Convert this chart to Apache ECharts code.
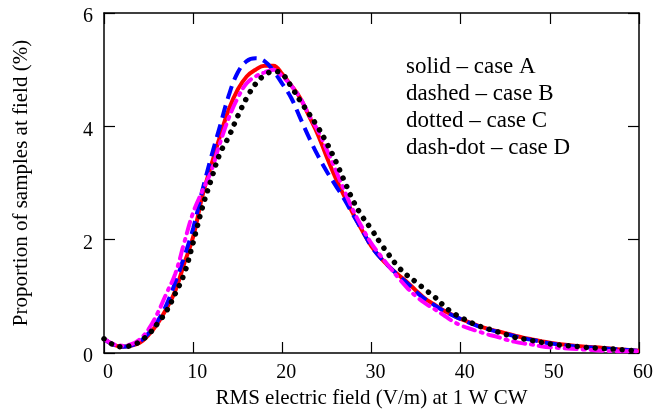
<!DOCTYPE html>
<html>
<head>
    <meta charset="utf-8">
    <title>RMS field distribution</title>
    <script src="https://cdn.jsdelivr.net/npm/echarts@6/dist/echarts.min.js"></script>
    <style>
        body { margin: 0; background: #fff; }
        #chart { width: 669px; height: 416px; }
    </style>
</head>
<body>
    <div id="chart"></div>
    <script type="text/javascript">
        // field values (V/m)
        var fieldX = [0, 1, 2, 3, 4, 5, 6, 7, 8, 9, 10, 11, 12, 13, 14, 15, 16, 17, 18, 19, 20,
            21, 22, 23, 24, 25, 26, 27, 28, 29, 30, 31, 32, 33, 34, 35, 36, 37, 38, 39, 40,
            41, 42, 43, 44, 45, 46, 47, 48, 49, 50, 52, 54, 56, 58, 60];

        // solid – case A
        var caseA = [0.25, 0.15, 0.11, 0.13, 0.18, 0.32, 0.52, 0.78, 1.1, 1.58, 2.05, 2.75, 3.3, 3.82, 4.3, 4.65, 4.88, 5.0, 5.07, 5.07, 4.92,
            4.72, 4.5, 4.18, 3.85, 3.45, 3.08, 2.75, 2.44, 2.15, 1.88, 1.68, 1.52, 1.38, 1.25, 1.1, 0.96, 0.86, 0.76, 0.68, 0.6,
            0.54, 0.48, 0.43, 0.39, 0.35, 0.31, 0.27, 0.24, 0.21, 0.18, 0.14, 0.11, 0.09, 0.06, 0.04];
        // dashed – case B
        var caseB = [0.25, 0.15, 0.11, 0.13, 0.2, 0.35, 0.56, 0.85, 1.25, 1.7, 2.2, 2.85, 3.45, 4.0, 4.55, 4.95, 5.15, 5.2, 5.15, 4.98, 4.75,
            4.5, 4.15, 3.8, 3.48, 3.2, 2.95, 2.7, 2.42, 2.15, 1.88, 1.68, 1.52, 1.37, 1.23, 1.08, 0.95, 0.85, 0.75, 0.67, 0.6,
            0.53, 0.47, 0.42, 0.38, 0.34, 0.3, 0.26, 0.23, 0.2, 0.17, 0.13, 0.1, 0.08, 0.06, 0.04];
        // dotted – case C
        var caseC = [0.25, 0.15, 0.11, 0.13, 0.2, 0.33, 0.52, 0.74, 1.05, 1.4, 1.95, 2.55, 3.05, 3.52, 3.82, 4.18, 4.5, 4.75, 4.9, 4.97, 4.92,
            4.7, 4.45, 4.22, 3.98, 3.7, 3.38, 3.02, 2.67, 2.4, 2.18, 1.94, 1.72, 1.52, 1.37, 1.25, 1.12, 1.0, 0.85, 0.72, 0.63,
            0.55, 0.48, 0.43, 0.38, 0.33, 0.28, 0.25, 0.22, 0.19, 0.16, 0.13, 0.1, 0.08, 0.06, 0.03];
        // dash-dot – case D
        var caseD = [0.25, 0.16, 0.13, 0.15, 0.24, 0.42, 0.7, 1.05, 1.4, 1.95, 2.48, 2.85, 3.2, 3.7, 4.15, 4.5, 4.76, 4.88, 4.95, 5.0, 4.88,
            4.72, 4.5, 4.2, 3.92, 3.58, 3.22, 2.85, 2.5, 2.2, 1.93, 1.72, 1.52, 1.33, 1.15, 1.0, 0.88, 0.78, 0.68, 0.57, 0.49,
            0.43, 0.38, 0.33, 0.29, 0.24, 0.2, 0.17, 0.15, 0.12, 0.1, 0.08, 0.06, 0.04, 0.03, 0.03];

        var legendLines = ['solid – case A', 'dashed – case B', 'dotted – case C', 'dash-dot – case D'];

        function pairs(ys) {
            return fieldX.map(function(x, i) {
                return [x, ys[i]];
            });
        }

        var serif = 'Liberation Serif, Times New Roman, serif';

        function axisBase(extra) {
            var a = {
                type: 'value',
                axisLine: { show: true, onZero: false, lineStyle: { color: '#000', width: 1.5 } },
                axisTick: { show: true, inside: true, length: 11, lineStyle: { color: '#000', width: 1.2 } },
                splitLine: { show: false },
                axisLabel: { color: '#000', fontFamily: serif, fontSize: 20 }
            };
            for (var k in extra) a[k] = extra[k];
            return a;
        }

        var chart = echarts.init(document.getElementById('chart'));
        var option = {
            animation: false,
            grid: { left: 104, right: 30, top: 13, bottom: 63 },
            xAxis: [
                axisBase({
                    min: 0, max: 60, interval: 10, position: 'bottom',
                    name: 'RMS electric field (V/m) at 1 W CW',
                    nameLocation: 'middle', nameGap: 34,
                    nameTextStyle: { color: '#000', fontFamily: serif, fontSize: 21 },
                    axisLabel: { color: '#000', fontFamily: serif, fontSize: 20, margin: 10, padding: [0, 0, 0, 8] }
                }),
                axisBase({
                    min: 0, max: 60, interval: 10, position: 'top',
                    axisLabel: { show: false }
                })
            ],
            yAxis: [
                axisBase({
                    min: 0, max: 6, interval: 2, position: 'left',
                    name: 'Proportion of samples at field (%)',
                    nameLocation: 'middle', nameGap: 72,
                    nameTextStyle: { color: '#000', fontFamily: serif, fontSize: 21 },
                    axisLabel: { color: '#000', fontFamily: serif, fontSize: 20, margin: 11, verticalAlign: 'top', lineHeight: 8 }
                }),
                axisBase({
                    min: 0, max: 6, interval: 2, position: 'right',
                    axisLabel: { show: false }
                })
            ],
            graphic: legendLines.map(function(t, i) {
                return {
                    type: 'text',
                    left: 406,
                    top: 55 + i * 27.3,
                    style: { text: t, fill: '#000', font: '23px ' + serif }
                };
            }),
            series: [{
                name: 'A', type: 'line', data: pairs(caseA), smooth: 0.4, showSymbol: false,
                lineStyle: { color: '#ff0000', width: 4 }
            }, {
                name: 'B', type: 'line', data: pairs(caseB), smooth: 0.4, showSymbol: false,
                lineStyle: { color: '#0000ff', width: 4, type: [13, 7] }
            }, {
                name: 'D', type: 'line', data: pairs(caseD), smooth: 0.4, showSymbol: false,
                lineStyle: { color: '#ff00ff', width: 4, type: [12, 6, 2, 6], cap: 'round' }
            }, {
                name: 'C', type: 'line', data: pairs(caseC), smooth: 0.4, showSymbol: false,
                lineStyle: { color: '#000000', width: 5.5, type: [0.01, 9], cap: 'round' }
            }]
        };
        chart.setOption(option);
    </script>
</body>
</html>
